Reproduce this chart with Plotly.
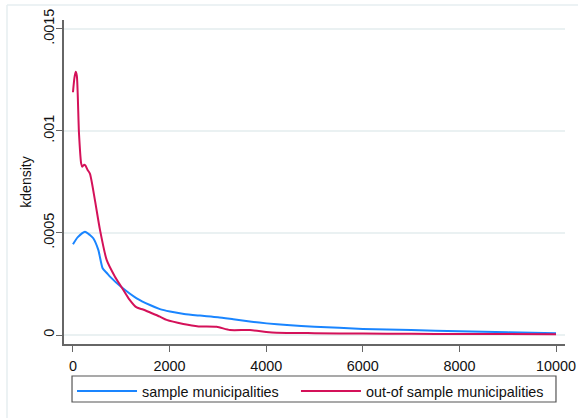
import plotly.graph_objects as go

# sample municipalities (blue)
blue_x = [0, 100, 248, 350, 420, 524, 614, 697, 766, 1007, 1318, 1594, 1800, 2008, 2300,
          2629, 3000, 3318, 3700, 4009, 4430, 5000, 6000, 7000, 8000, 9000, 10000]
blue_y = [0.000445, 0.00048, 0.000506, 0.00049, 0.000474, 0.000417, 0.000327, 0.000305, 0.000286,
          0.000234, 0.00018, 0.000147, 0.000127, 0.000115, 0.000103, 0.000095, 0.000087, 0.000077,
          0.000065, 0.000057, 0.000049, 0.000041, 0.00003, 0.000024, 0.000018, 0.000013, 0.000008]

# out-of sample municipalities (red)
red_x = [0, 30, 56, 80, 124, 170, 193, 230, 260, 300, 352, 455, 559, 697, 869, 1007, 1150, 1318,
         1450, 1560, 1800, 1939, 2284, 2600, 2974, 3250, 3664, 4000, 4216, 4700, 5000, 6000, 7000,
         8000, 9000, 10000]
red_y = [0.00119, 0.00126, 0.00129, 0.00127, 0.00099, 0.00084, 0.000825, 0.000835, 0.00083, 0.00081,
         0.00079, 0.00066, 0.000515, 0.000368, 0.000286, 0.000234, 0.00018, 0.000135, 0.000125,
         0.000114, 0.00009, 0.000074, 0.000054, 0.000042, 0.00004, 0.0000245, 0.0000245, 0.000015,
         0.000011, 0.00001, 0.000009, 0.000007, 0.000006, 0.000005, 0.000005, 0.000004]

series_names = ["sample municipalities", "out-of sample municipalities"]
x_ticks = [0, 2000, 4000, 6000, 8000, 10000]
x_tick_labels = ["0", "2000", "4000", "6000", "8000", "10000"]
y_ticks = [0, 0.0005, 0.001, 0.0015]
y_tick_labels = ["0", ".0005", ".001", ".0015"]

BLUE = "#1a85ff"
RED = "#d41159"
TXT = "#111"
FONT = "Liberation Sans, Arial, sans-serif"

fig = go.Figure()
fig.add_trace(go.Scatter(x=blue_x, y=blue_y, mode="lines", name=series_names[0], legend="legend",
                         line=dict(color=BLUE, width=2, shape="spline", smoothing=0.6)))
fig.add_trace(go.Scatter(x=red_x, y=red_y, mode="lines", name=series_names[1], legend="legend2",
                         line=dict(color=RED, width=2, shape="spline", smoothing=0.6)))

leg_common = dict(orientation="h", y=-0.096, xanchor="left", yanchor="top", itemwidth=60,
                  font=dict(size=14.4, color=TXT), bgcolor="rgba(0,0,0,0)", borderwidth=0)

fig.update_layout(
    width=578, height=418,
    margin=dict(l=64, r=13, t=20, b=74, autoexpand=False),
    paper_bgcolor="white", plot_bgcolor="white",
    font=dict(family=FONT, size=14, color=TXT),
    showlegend=True,
    legend=dict(x=0.016, **leg_common),
    legend2=dict(x=0.463, **leg_common),
    xaxis=dict(range=[-186, 10186], tickvals=x_ticks, ticktext=x_tick_labels, ticks="outside",
               ticklen=6, tickcolor="#666", tickwidth=1.3, showline=True, linecolor="#666",
               linewidth=1.5, showgrid=False, zeroline=False, ticklabelstandoff=2,
               tickfont=dict(size=14.4, color=TXT)),
    yaxis=dict(range=[-0.0000441, 0.001544], tickvals=y_ticks, ticktext=y_tick_labels,
               tickangle=-90, ticks="outside", ticklen=6, tickcolor="#666", tickwidth=1.3,
               showline=True, linecolor="#666", linewidth=1.5, ticklabelstandoff=-4,
               showgrid=True, gridcolor="#eaf1f2", gridwidth=1.5, zeroline=False,
               tickfont=dict(size=14.4, color=TXT),
               title=dict(text="kdensity", font=dict(size=14, color=TXT), standoff=7)),
    shapes=[
        dict(type="rect", xref="paper", yref="paper", x0=0.016, x1=0.982, y0=-0.179, y1=-0.0988,
             line=dict(color="#555", width=1.2), fillcolor="rgba(0,0,0,0)"),
        dict(type="line", xref="paper", yref="paper", x0=-0.1138, x1=1.026, y0=1.0463, y1=1.0463,
             line=dict(color="#e6eef0", width=1.5)),
        dict(type="line", xref="paper", yref="paper", x0=-0.1138, x1=-0.1138, y0=1.0463, y1=-0.229,
             line=dict(color="#e6eef0", width=1.5)),
    ],
)

fig.write_html("out.html")
